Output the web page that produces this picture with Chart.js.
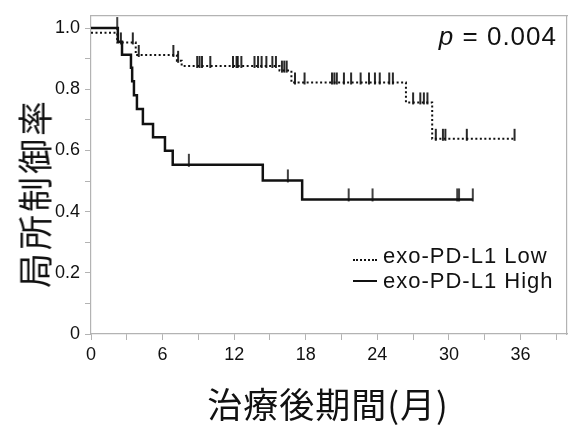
<!DOCTYPE html>
<html>
<head>
<meta charset="utf-8">
<script src="https://cdn.jsdelivr.net/npm/chart.js@4.4.1/dist/chart.umd.min.js"></script>
<style>
    html, body { margin: 0; padding: 0; background: #fff; }
    #wrap { position: relative; width: 579px; height: 426px; }
    .txt { position: absolute; color: #111; white-space: nowrap; line-height: 1; }
    #yTitle {
        left: 33px; top: 193px;
        font: 35px "Noto Sans CJK JP", sans-serif; letter-spacing: 3px;
        transform: translate(-50%, -50%) rotate(-90deg);
    }
    #xTitle {
        left: 328px; top: 402px;
        font: 35px "Noto Sans CJK JP", sans-serif; letter-spacing: 1px;
        transform: translate(-50%, -50%);
    }
    #pValue {
        right: 22px; top: 36px;
        font: 26px "Liberation Sans", Arial, sans-serif; letter-spacing: 1px;
        transform: translateY(-50%);
    }
    .legend {
        left: 353px; display: flex; align-items: center;
        font: 22px "Liberation Sans", Arial, sans-serif; letter-spacing: 1px;
        transform: translateY(-50%);
    }
    .sample { display: inline-block; width: 24px; margin-right: 6px; }
    .sample.dotted { border-top: 2px dotted #111; margin-top: 8px; }
    .sample.solid { border-top: 2.5px solid #111; }
</style>
</head>
<body>
<div id="wrap">
    <canvas id="kmChart" width="579" height="426"></canvas>
    <div class="txt" id="yTitle">局所制御率</div>
    <div class="txt" id="xTitle">治療後期間(月)</div>
    <div class="txt" id="pValue"><i>p</i> = 0.004</div>
    <div class="txt legend" style="top:256px"><span class="sample dotted"></span>exo-PD-L1 Low</div>
    <div class="txt legend" style="top:281px"><span class="sample solid"></span>exo-PD-L1 High</div>
</div>
<script>
// step curves: time at which survival changes, survival after the change
const lowTimes = [0, 2.2, 3.75, 7.2, 7.6, 15.8, 16.8, 26.4, 28.6, 35.5];
const lowSurv = [0.985, 0.953, 0.912, 0.893, 0.876, 0.861, 0.822, 0.757, 0.638, 0.638];
const lowCensored = [2.5, 3.5, 4.0, 6.9, 7.3, 8.9, 9.1, 9.3, 10.0, 11.9, 12.2, 12.3, 12.6, 13.7, 14.0, 14.3, 14.7,
    15.2, 15.5, 16.0, 16.2, 16.4, 17.1, 17.9, 20.2, 20.4, 20.6, 21.2, 21.8, 22.6, 23.3, 23.8, 24.2, 25.0, 25.3,
    27.0, 27.6, 27.9, 28.2, 28.9, 29.5, 29.7, 31.5, 35.5];

const highTimes = [0, 2.25, 2.6, 3.35, 3.45, 3.6, 3.85, 4.35, 5.2, 6.2, 6.85, 14.4, 17.7, 32.0];
const highSurv = [1.0, 0.955, 0.913, 0.87, 0.826, 0.78, 0.735, 0.686, 0.643, 0.599, 0.553, 0.502, 0.44, 0.44];
const highCensored = [2.2, 8.2, 16.5, 21.6, 23.6, 30.7, 30.85, 32.0];

const xTickLabels = ['0', '6', '12', '18', '24', '30', '36'];
const yTickLabels = ['0', '0.2', '0.4', '0.6', '0.8', '1.0'];

function survivalAt(times, surv, t) {
    let s = surv[0];
    for (let i = 0; i < times.length; i++) {
        if (times[i] <= t) s = surv[i];
    }
    return s;
}

// censor mark: short vertical stroke, mostly above the curve
function tickMark(above, below, width) {
    const c = document.createElement('canvas');
    c.width = 4;
    c.height = 32;
    const g = c.getContext('2d');
    g.strokeStyle = '#111';
    g.lineWidth = width;
    g.beginPath();
    g.moveTo(2, 16 - above);
    g.lineTo(2, 16 + below);
    g.stroke();
    return c;
}

const greyAxis = '#b3b3b3';

const lineData = (times, surv) => times.map((t, i) => ({ x: t, y: surv[i] }));
const censorData = (cens, times, surv) => cens.map(t => ({ x: t, y: survivalAt(times, surv, t) }));

new Chart(document.getElementById('kmChart'), {
    type: 'scatter',
    data: {
        datasets: [
            {
                label: 'exo-PD-L1 Low',
                data: lineData(lowTimes, lowSurv),
                showLine: true,
                stepped: true,
                borderColor: '#111',
                borderWidth: 2,
                borderDash: [2, 2.5],
                pointRadius: 0
            },
            {
                label: 'exo-PD-L1 High',
                data: lineData(highTimes, highSurv),
                showLine: true,
                stepped: true,
                borderColor: '#111',
                borderWidth: 2.5,
                pointRadius: 0
            },
            {
                label: 'Low censored',
                data: censorData(lowCensored, lowTimes, lowSurv),
                pointStyle: tickMark(10, 2, 1.8),
                pointRadius: 3,
                clip: false
            },
            {
                label: 'High censored',
                data: censorData(highCensored, highTimes, highSurv),
                pointStyle: tickMark(11, 2, 1.6),
                pointRadius: 3,
                clip: false
            }
        ]
    },
    options: {
        responsive: false,
        animation: false,
        layout: { padding: { top: 13, right: 12, left: 0, bottom: 0 } },
        plugins: {
            legend: { display: false },
            tooltip: { enabled: false }
        },
        scales: {
            x: {
                type: 'linear',
                min: 0,
                max: 39.9,
                afterFit: (scale) => { scale.height = 92; },
                border: { color: greyAxis, width: 1.2 },
                grid: { drawOnChartArea: false, tickLength: 6, tickColor: greyAxis },
                ticks: {
                    stepSize: 3,
                    includeBounds: false,
                    autoSkip: false,
                    maxRotation: 0,
                    padding: 4,
                    color: '#111',
                    font: { family: '"Liberation Sans", Arial, sans-serif', size: 18 },
                    callback: (value) => xTickLabels.includes(String(value)) ? String(value) : ''
                }
            },
            y: {
                min: 0,
                max: 1.04,
                afterFit: (scale) => { scale.width = 91; },
                border: { color: greyAxis, width: 1.2 },
                grid: { drawOnChartArea: false, tickLength: 6, tickColor: greyAxis },
                ticks: {
                    stepSize: 0.1,
                    includeBounds: false,
                    autoSkip: false,
                    padding: 5,
                    color: '#111',
                    font: { family: '"Liberation Sans", Arial, sans-serif', size: 18 },
                    callback: (value) => {
                        const v = Math.round(value * 10);
                        if (v % 2) return '';
                        return yTickLabels[v / 2] || '';
                    }
                }
            },
            xTop: {
                type: 'linear',
                position: 'top',
                afterFit: (scale) => { scale.height = 0; },
                border: { color: greyAxis, width: 1.2 },
                grid: { display: false, drawTicks: false },
                ticks: { display: false }
            },
            yRight: {
                type: 'linear',
                position: 'right',
                afterFit: (scale) => { scale.width = 0; },
                border: { color: greyAxis, width: 1.2 },
                grid: { display: false, drawTicks: false },
                ticks: { display: false }
            }
        }
    }
});
</script>
</body>
</html>
